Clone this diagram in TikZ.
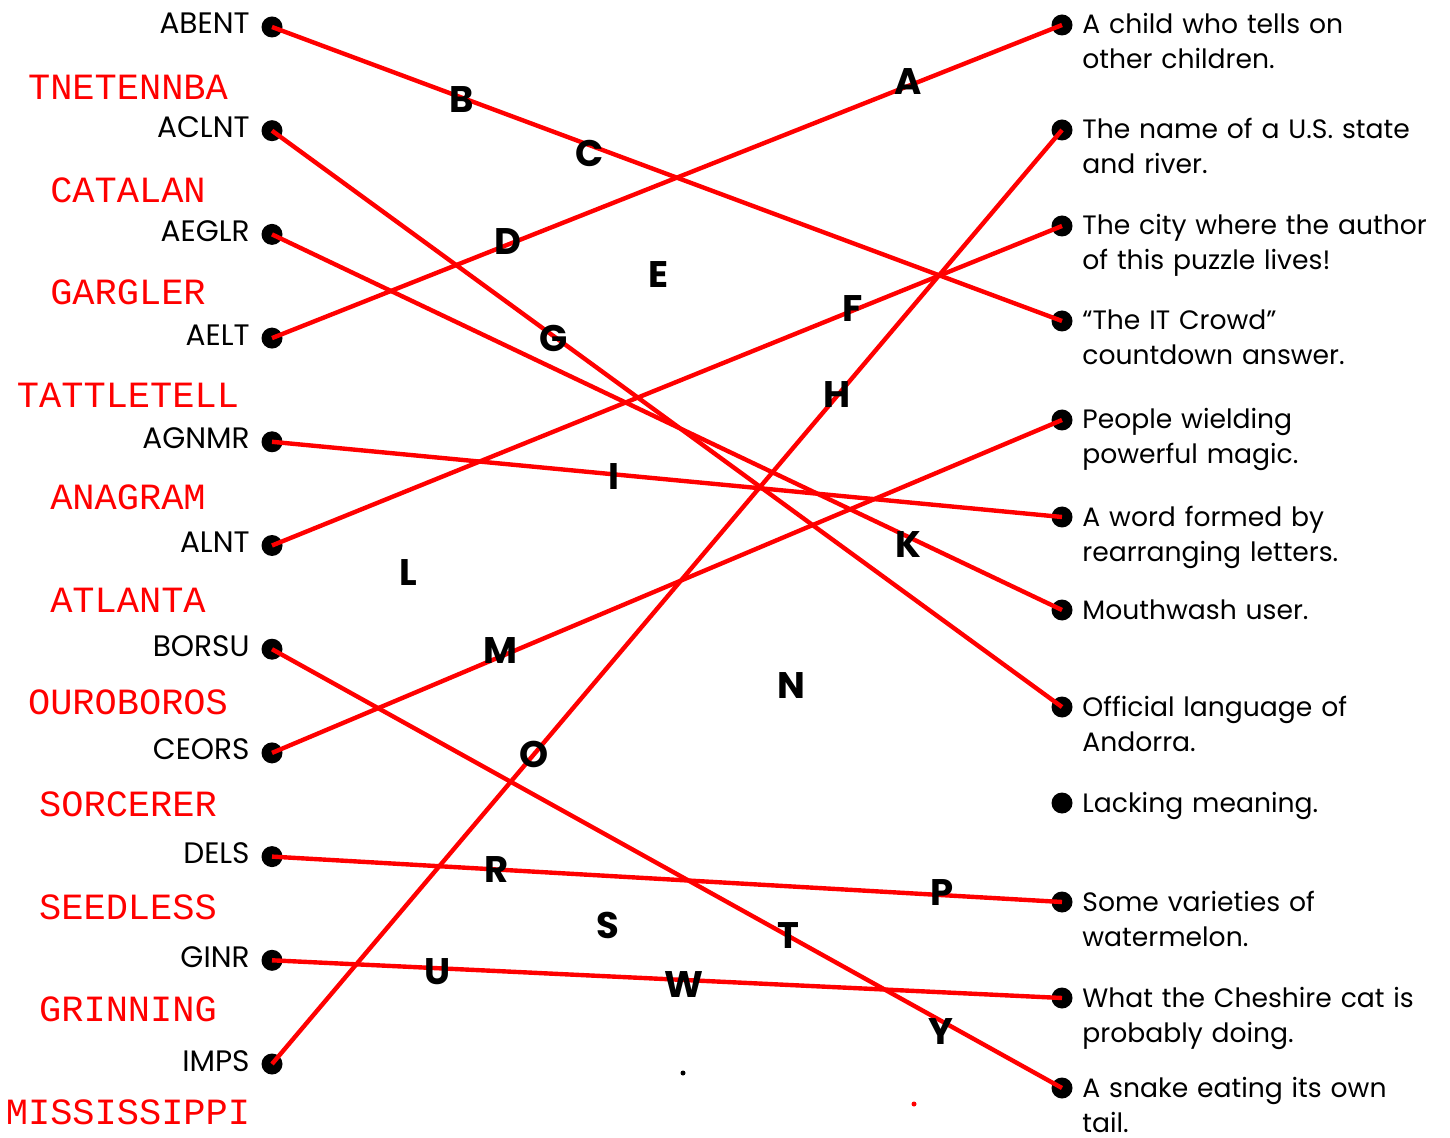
\documentclass[tikz,border=0pt]{standalone}
\usepackage{fontspec}
\setmainfont{Poppins}
\newfontfamily\ansfont{Liberation Mono}
\usetikzlibrary{positioning}
\tikzset{
  dotpt/.style={circle,fill=black,inner sep=0pt,minimum size=10.5pt},
  link/.style={red,line width=2.2pt},
  word/.style={font=\fontsize{14.8}{16}\selectfont,anchor=base east,inner sep=0pt},
  clue/.style={font=\fontsize{13.3}{17.5}\selectfont,anchor=base west,align=left,
    text width=200pt,inner sep=0pt},
  ans/.style={font=\ansfont\fontsize{18.5}{20}\selectfont,text=red,anchor=base,inner sep=0pt},
  ltr/.style={font=\fontsize{18.5}{20}\selectfont\bfseries,inner sep=0pt},
  speck/.style={circle,inner sep=0pt,minimum size=2.5pt},
}
\begin{document}
\begin{tikzpicture}[x=0.5pt,y=-0.5pt]
  \useasboundingbox (0,0) rectangle (1450,1138);
  % scrambled words with their dots
  \foreach \w [count=\i] in {ABENT,ACLNT,AEGLR,AELT,AGNMR,ALNT,BORSU,CEORS,DELS,GINR,IMPS}{
    \node[dotpt] (l\i) at (272,{27+103.7*(\i-1)}) {};
    \node[word] (w\i) at ([shift={(-22,7)}]l\i.center) {\w};
  }
  % solved answers in red
  \foreach \a [count=\i] in {TNETENNBA,CATALAN,GARGLER,TATTLETELL,ANAGRAM,ATLANTA,
      OUROBOROS,SORCERER,SEEDLESS,GRINNING,MISSISSIPPI}
    \node[ans] (a\i) at (128,{100+102.4*(\i-1)}) {\a};
  % clues on the right
  \foreach \y/\t [count=\j] in {
      25/{A child who tells on\\other children.},
      130/{The name of a U.S. state\\and river.},
      226/{The city where the author\\of this puzzle lives!},
      321/{“The IT Crowd”\\countdown answer.},
      420/{People wielding\\powerful magic.},
      517/{A word formed by\\rearranging letters.},
      610/{Mouthwash user.},
      707/{Official language of\\Andorra.},
      803/{Lacking meaning.},
      902/{Some varieties of\\watermelon.},
      998/{What the Cheshire cat is\\probably doing.},
      1088/{A snake eating its own\\tail.}}{
    \node[dotpt] (r\j) at (1062,\y) {};
    \node[clue] (c\j) at ([shift={(20,9)}]r\j.center) {\t};
  }
  % matching lines
  \foreach \s/\e in {1/4,2/8,3/7,4/1,5/6,6/3,7/12,8/5,9/10,10/11,11/2}
    \draw[link] (l\s.center) -- (r\e.center);
  % letters scattered over the lines
  \foreach \c/\x/\y in {A/908/82,B/462/100,C/590/153,D/508/242,E/658/275,F/853/309,
      G/554/338,H/837/395,I/614/477,K/908/545,L/408/573,M/500/651,N/791/686,
      O/534/754,R/497/870,P/942/893,S/608/925,T/788/936,U/438/972,W/684/985,Y/941/1032}
    \node[ltr] (k\c) at (\x,\y) {\c};
  \node[speck,fill=black] (sp1) at (683,1073) {};
  \node[speck,fill=red] (sp2) at (914,1104) {};
\end{tikzpicture}
\end{document}
